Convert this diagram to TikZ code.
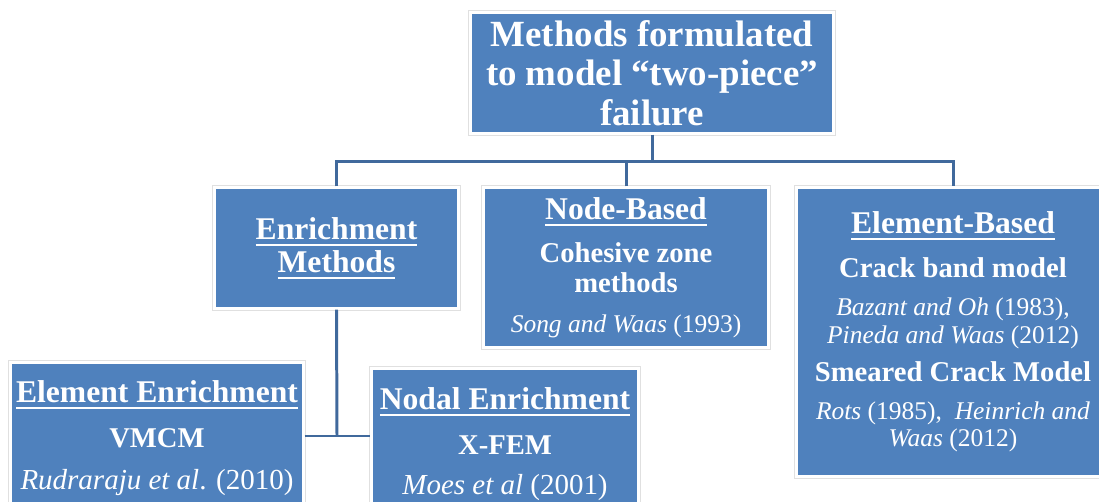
\documentclass[tikz,border=0pt]{standalone}
\usepackage{fontspec}
\setmainfont{Liberation Serif}

\definecolor{boxblue}{HTML}{4F81BD}
\definecolor{linkblue}{HTML}{40699C}

% type sizes (baselines are set by hand with \\[..])
\newcommand\tight{\lineskiplimit=-\maxdimen}
\newcommand\rootsize{\fontsize{21}{0}\selectfont\bfseries}
\newcommand\hdsize{\fontsize{18}{0}\selectfont\bfseries}
\newcommand\subsize{\fontsize{16.3}{0}\selectfont\bfseries}
\newcommand\refsize{\fontsize{14.5}{0}\selectfont\mdseries}
\newcommand\refbig{\fontsize{16.5}{0}\selectfont\mdseries}
\newcommand\ulined[1]{\setbox0\hbox{#1}\rlap{\rule[-3.6pt]{\wd0}{1.1pt}}\box0}

\begin{document}
\begin{tikzpicture}[x=0.02cm, y=-0.02cm,
  box/.style ={fill=boxblue, draw=white, line width=1.2pt,
               preaction={draw=black!12, line width=2.6pt},
               text=white, inner sep=0pt, align=center},
  link/.style={draw=linkblue, line width=1.7pt}]

  \useasboundingbox (0,0) rectangle (1099,502);
  \clip (0,0) rectangle (1099,502);

  % top level
  \node[box, minimum width=7.26cm, minimum height=2.42cm, font=\rootsize\tight]
    (root) at (652,73) {Methods formulated\\[22.4pt]to model ``two-piece''\\[22.4pt]failure};

  % second level
  \node[box, minimum width=4.88cm, minimum height=2.42cm, font=\hdsize\tight]
    (enrich) at (336.5,248) {\ulined{Enrichment}\\[18.7pt]\ulined{Methods}};
  \node[box, minimum width=5.70cm, minimum height=3.20cm, font=\hdsize\tight]
    (nodeb) at (626,267.5) {\ulined{Node-Based}\\[24.4pt]
      {\subsize Cohesive zone}\\[17pt]{\subsize methods}\\[22.7pt]
      {\refsize\textit{Song and Waas} (1993)}};
  \node[box, minimum width=6.26cm, minimum height=5.78cm, font=\hdsize\tight]
    (elemb) at (953,332) {\ulined{Element-Based}\\[25pt]
      {\subsize Crack band model}\\[21.5pt]
      {\refsize\textit{Bazant and Oh} (1983),}\\[15.9pt]
      {\refsize\textit{Pineda and Waas} (2012)}\\[21.5pt]
      {\subsize Smeared Crack Model}\\[22.1pt]
      {\refsize\textit{Rots} (1985),\ \ \textit{Heinrich and}}\\[15.3pt]
      {\refsize\textit{Waas} (2012)}};

  % enrichment branch
  \node[box, minimum width=5.86cm, minimum height=3.02cm, font=\hdsize\tight]
    (elemenr) at (157,438) {\ulined{Element Enrichment}\\[25.5pt]
      {\subsize VMCM}\\[23.8pt]{\refbig\textit{Rudraraju et al}. (2010)}};
  \node[box, minimum width=5.34cm, minimum height=3.02cm, font=\hdsize\tight]
    (nodalenr) at (505,444) {\ulined{Nodal Enrichment}\\[25.5pt]
      {\subsize X-FEM}\\[22.7pt]{\refbig\textit{Moes et al} (2001)}};

  % connectors
  \coordinate (bus) at (652,162);
  \coordinate (joint) at (337,436);
  \draw[link] (root.south) -- (bus);
  \draw[link] (enrich.north) |- (bus) -| (elemb.north);
  \draw[link] (nodeb.north) -- (nodeb.north |- bus);
  \draw[link] (enrich.south) -- (joint);
  \draw[link] (elemenr.east |- joint) -- (nodalenr.west |- joint);
\end{tikzpicture}
\end{document}
